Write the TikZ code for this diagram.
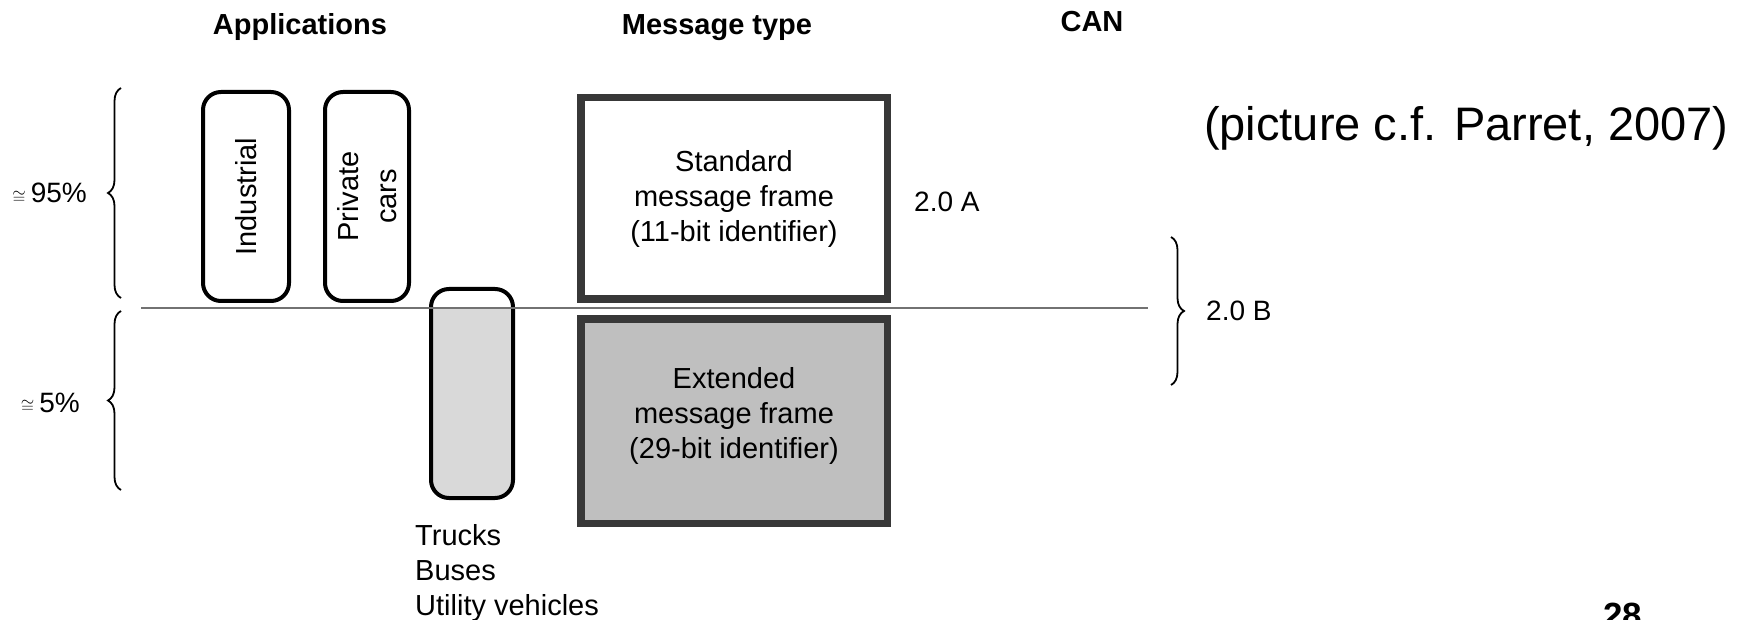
\documentclass[tikz,border=0pt]{standalone}
\usepackage{fontspec}
\setmainfont{Liberation Sans}
\usetikzlibrary{decorations.pathreplacing}

\definecolor{framegray}{HTML}{383838}
\definecolor{extfill}{HTML}{BFBFBF}
\definecolor{truckfill}{HTML}{D9D9D9}
\definecolor{linegray}{HTML}{727272}

\begin{document}
\begin{tikzpicture}[x=1pt,y=-1pt,
  header/.style={font=\fontsize{29}{29}\selectfont\bfseries, inner sep=0pt, anchor=base},
  body/.style={font=\fontsize{29}{35}\selectfont, inner sep=0pt, align=center},
  label/.style={font=\fontsize{28}{28}\selectfont, inner sep=0pt},
  appbox/.style={draw=black, line width=4pt, rounded corners=18pt},
  framebox/.style={draw=framegray, line width=7.5pt},
  bracestyle/.style={decorate, decoration={brace, amplitude=13pt}, line width=1.8pt},
]
\useasboundingbox (0,0) rectangle (1737,620);

% column headers
\node[header] (hApp) at (300,35) {Applications};
\node[header] (hMsg) at (717,35) {Message type};
\node[header] (hCan) at (1092,32) {CAN};

% application boxes
\node[appbox, rotate=90, minimum width=209pt, minimum height=86pt, body] (ind) at (246,196.5) {Industrial};
\node[appbox, rotate=90, minimum width=209pt, minimum height=84pt, body, font=\fontsize{29}{38}\selectfont] (priv) at (367,196.5) {Private\\cars};

% trucks box: white above the separating line, grey below it
\coordinate (lineL) at (141,308);
\coordinate (lineR) at (1148,308);
\begin{scope}
  \clip[rounded corners=18pt] (431,289) rectangle (513,498);
  \fill[truckfill] (431,308) rectangle (513,498);
\end{scope}
\node[appbox, minimum width=82pt, minimum height=209pt] (trk) at (472,393.5) {};

% message frame boxes
\node[framebox, minimum width=306.5pt, minimum height=201.5pt, body] (std) at (734,198.5)
  {Standard\\message frame\\(11-bit identifier)};
\node[framebox, fill=extfill, minimum width=306.5pt, minimum height=204.5pt] (ext) at (734,421) {};
\node[body] (extTxt) at (734,416) {Extended\\message frame\\(29-bit identifier)};

% separating line
\draw[linegray, line width=2.5pt] (lineL) -- (lineR);

% percentage braces
\coordinate (bA1) at (121,298);
\coordinate (bA2) at (121,88);
\coordinate (bB1) at (121,490);
\coordinate (bB2) at (121,311);
\draw[bracestyle] (bA1) -- (bA2);
\draw[bracestyle] (bB1) -- (bB2);
\node[label, anchor=base east] (p95) at (87,203) {{\fontsize{16}{16}\selectfont$\cong$}\hspace{5pt}95\%};
\node[label, anchor=base east] (p5) at (80,412) {{\fontsize{16}{16}\selectfont$\cong$}\hspace{5pt}5\%};

% CAN versions
\coordinate (bC1) at (1171,237);
\coordinate (bC2) at (1171,385);
\draw[bracestyle] (bC1) -- (bC2);
\node[label, anchor=base west] (vA) at (914,212) {2.0 A};
\node[label, anchor=base west] (vB) at (1206,320) {2.0 B};

% vehicle list under the trucks box
\node[body, align=left, anchor=north west] (veh) at (415,524) {Trucks\\Buses\\Utility vehicles};

% source note and page number
\node[font=\fontsize{47}{47}\selectfont, inner sep=0pt, anchor=base west] (cite) at (1204,141) {(picture c.f. Parret, 2007)};
\node[font=\fontsize{35}{35}\selectfont\bfseries, inner sep=0pt, anchor=base west] (page) at (1603,627) {28};
\end{tikzpicture}
\end{document}
